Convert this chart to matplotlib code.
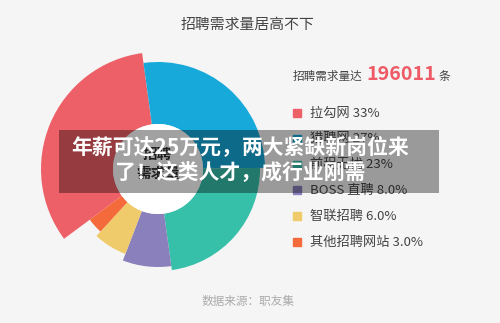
import matplotlib.pyplot as plt
import numpy as np
from matplotlib.patches import Rectangle

plt.rcParams['font.family'] = ['Noto Sans CJK SC', 'DejaVu Sans']

# data
sites = ['拉勾网', '猎聘网', '前程无忧', 'BOSS 直聘', '智联招聘', '其他招聘网站']
share_labels = ['33%', '27%', '23%', '8.0%', '6.0%', '3.0%']
shares = [33, 27, 23, 8, 6, 3]
rose_len = [117, 107, 102, 98, 91, 85]   # outer radius of each petal (px)
colors = ['#ee6068', '#16a9da', '#36bfa9', '#8a80bc', '#efcb6b', '#f46a3a']
total_count = '196011'

W, H = 500, 323
bg = '#f5f5f5'
fig = plt.figure(figsize=(W / 100, H / 100), dpi=100, facecolor=bg)


def fx(x):
    return x / W


def fy(y):
    return 1 - y / H


# rose chart, centre (158,169) px, axis radius 120 px
cx, cy, R = 158, 169, 120
ax = fig.add_axes([fx(cx - R), fy(cy + R), 2 * R / W, 2 * R / H], projection='polar')
ax.set_theta_zero_location('N')
ax.set_theta_direction(-1)
ax.set_ylim(0, R)
ax.axis('off')
ax.patch.set_alpha(0)

inner = 45
widths = np.deg2rad(np.array(shares) / sum(shares) * 360)
start = np.deg2rad(-7.8) - widths[0]
lefts = start + np.concatenate([[0], np.cumsum(widths)[:-1]])
ax.bar(lefts, np.array(rose_len) - inner, width=widths, bottom=inner,
       color=colors, align='edge', linewidth=0)
ax.bar(0, inner, width=2 * np.pi, bottom=0, color='white', linewidth=0)

# centre label (sits under the headline band)
fig.text(fx(157), fy(154), '招聘', ha='center', va='center', fontsize=10.5,
         fontweight='bold', color='#333333')
fig.text(fx(158), fy(173), '需求量', ha='center', va='center', fontsize=10.5,
         fontweight='bold', color='#333333')

# title
fig.text(fx(248), fy(25), '招聘需求量居高不下', ha='center', va='center',
         fontsize=10.7, color='#444444')

# total count
fig.text(fx(293), fy(76), '招聘需求量达', ha='left', va='center',
         fontsize=8.4, color='#444444')
fig.text(fx(366), fy(75), total_count, ha='left', va='center',
         fontsize=14.2, fontweight='bold', color='#ee5a66')
fig.text(fx(439), fy(76), '条', ha='left', va='center',
         fontsize=8.4, color='#444444')

# legend
for i, (s, p, c) in enumerate(zip(sites, share_labels, colors)):
    y = 113 + i * 25.8
    fig.add_artist(Rectangle((fx(293), fy(y + 4)), 8 / W, 8 / H,
                             transform=fig.transFigure, color=c))
    fig.text(fx(310), fy(y), f'{s} {p}', ha='left', va='center',
             fontsize=9.5, color='#444444')

# source
fig.text(fx(248), fy(301), '数据来源：职友集', ha='center', va='center',
         fontsize=8.4, color='#aaaaaa')

# headline overlay
fig.add_artist(Rectangle((fx(59), fy(193)), 380 / W, 63 / H,
                         transform=fig.transFigure, color='black',
                         alpha=0.37, linewidth=0, zorder=10))
fig.text(fx(240), fy(148), '年薪可达25万元，两大紧缺新岗位来', ha='center',
         va='center', fontsize=15, fontweight='bold', color='white', zorder=11)
fig.text(fx(240), fy(173), '了！这类人才，成行业刚需', ha='center',
         va='center', fontsize=15, fontweight='bold', color='white', zorder=11)

fig.savefig('out.png', dpi=100, facecolor=bg)
